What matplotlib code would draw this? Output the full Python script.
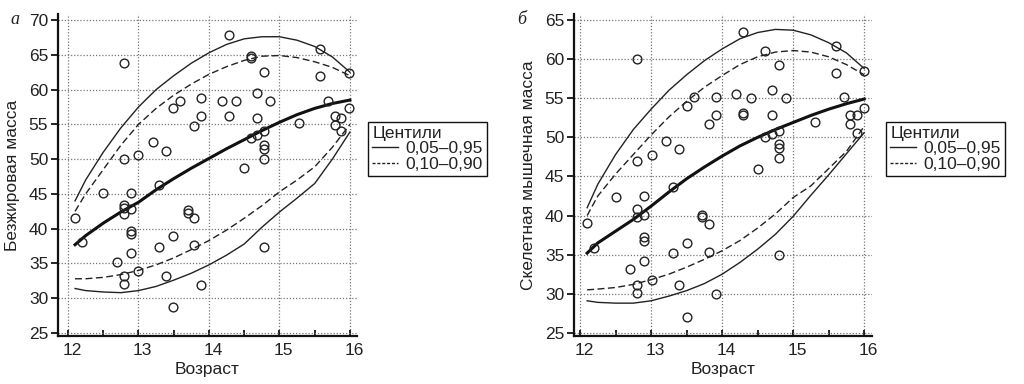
import matplotlib
matplotlib.use("Agg")
import matplotlib.pyplot as plt
from matplotlib.lines import Line2D
from matplotlib.ticker import MultipleLocator
from matplotlib.transforms import ScaledTranslation

plt.rcParams['font.family'] = ['Liberation Sans', 'DejaVu Sans']

# ---------------- data: panel a (lean mass) ----------------
age_a = [12.79, 14.285, 14.59, 14.59, 14.78, 15.575, 15.575, 15.98, 14.68, 14.87,
         15.69, 15.98, 15.785, 15.88, 15.785, 15.88, 15.28, 13.49, 13.59, 13.89,
         14.18, 14.39, 13.89, 14.285, 14.68, 13.79, 13.20, 13.39, 13.0, 12.79,
         14.59, 14.68, 14.78, 14.78, 14.78, 14.78, 14.49, 12.49, 12.89, 13.29,
         12.1, 12.2, 12.79, 12.79, 12.79, 12.89, 12.89, 12.89, 12.89, 12.69,
         12.79, 12.79, 13.0, 13.29, 13.39, 13.49, 13.49, 13.7, 13.7, 13.79,
         13.79, 13.89, 14.78]
mass_a = [63.8, 67.8, 64.8, 64.5, 62.6, 65.9, 61.9, 62.4, 59.5, 58.3,
          58.4, 57.3, 56.25, 55.96, 54.9, 54.0, 55.2, 57.3, 58.3, 58.75,
          58.3, 58.3, 56.15, 56.2, 55.96, 54.75, 52.5, 51.2, 50.6, 50.0,
          53.1, 53.5, 54.0, 52.1, 51.5, 50.0, 48.75, 45.1, 45.1, 46.3,
          41.6, 38.1, 43.45, 43.0, 42.15, 42.8, 39.7, 39.25, 36.5, 35.25,
          33.2, 32.0, 33.9, 37.4, 33.2, 39.0, 28.8, 42.7, 42.25, 41.6,
          37.65, 31.9, 37.3]

cent_x = [12.1, 12.25, 12.5, 12.75, 13.0, 13.25, 13.5, 13.75, 14.0, 14.25,
          14.5, 14.75, 15.0, 15.25, 15.5, 15.75, 16.0]
a_p95 = [44.0, 47.0, 51.0, 54.5, 57.5, 60.0, 62.0, 63.8, 65.3, 66.5,
         67.3, 67.6, 67.6, 67.1, 66.2, 64.7, 62.5]
a_p90 = [42.5, 45.0, 48.5, 52.0, 55.0, 57.3, 59.2, 60.8, 62.2, 63.3,
         64.2, 64.8, 64.9, 64.6, 64.0, 63.2, 62.0]
a_p50 = [37.7, 39.0, 40.8, 42.4, 43.8, 45.6, 47.2, 48.7, 50.1, 51.5,
         52.8, 54.1, 55.3, 56.4, 57.3, 58.0, 58.5]
a_p10 = [32.8, 32.8, 33.0, 33.4, 34.0, 34.8, 35.8, 37.0, 38.3, 39.8,
         41.5, 43.3, 45.3, 47.0, 48.9, 51.7, 55.0]
a_p05 = [31.4, 31.1, 30.9, 30.8, 31.1, 31.7, 32.6, 33.6, 34.8, 36.2,
         37.8, 40.2, 42.4, 44.4, 46.5, 50.0, 53.9]

# ---------------- data: panel б (skeletal muscle mass) ----------------
age_b = [12.80, 14.30, 14.61, 14.80, 15.60, 15.60, 16.0, 14.20, 14.41, 14.90,
         14.70, 14.30, 14.30, 14.70, 15.71, 15.31, 15.80, 15.80, 15.9, 16.0,
         15.9, 13.60, 13.91, 13.50, 13.91, 13.81, 14.61, 14.70, 14.80, 14.80,
         14.80, 14.80, 14.50, 13.21, 13.40, 13.01, 12.80, 13.31, 12.50, 12.90,
         12.10, 12.20, 12.80, 12.80, 12.90, 12.90, 12.90, 12.90, 12.70, 12.80,
         12.80, 13.01, 13.31, 13.40, 13.50, 13.50, 13.71, 13.71, 13.81, 13.81,
         13.91, 14.80]
mass_b = [60.0, 63.5, 61.0, 59.25, 61.7, 58.2, 58.5, 55.5, 55.0, 55.0,
          56.05, 53.1, 52.8, 52.8, 55.2, 51.9, 52.8, 51.7, 52.8, 53.7,
          50.5, 55.2, 55.2, 54.05, 52.8, 51.7, 50.0, 50.45, 50.8, 49.2,
          48.6, 47.4, 45.9, 49.5, 48.5, 47.7, 47.0, 43.6, 42.35, 42.5,
          39.0, 35.85, 40.9, 39.8, 40.1, 37.2, 36.7, 34.2, 33.2, 31.1,
          30.05, 31.7, 35.2, 31.15, 36.5, 27.05, 40.1, 39.8, 38.9, 35.4,
          30.0, 34.9]

b_p95 = [41.0, 44.0, 47.8, 51.0, 53.6, 56.0, 58.0, 59.8, 61.3, 62.6,
         63.4, 63.8, 63.7, 63.1, 62.1, 60.8, 58.8]
b_p90 = [40.0, 42.5, 45.3, 47.8, 50.3, 52.6, 54.6, 56.4, 57.9, 59.3,
         60.3, 60.9, 61.1, 60.9, 60.3, 59.3, 58.0]
b_p50 = [35.2, 36.5, 38.0, 39.5, 41.2, 43.0, 44.7, 46.2, 47.6, 48.9,
         50.0, 51.0, 51.9, 52.8, 53.6, 54.3, 54.9]
b_p10 = [30.5, 30.6, 30.8, 31.2, 31.8, 32.5, 33.4, 34.4, 35.5, 36.8,
         38.4, 40.2, 42.3, 43.8, 46.0, 48.2, 51.4]
b_p05 = [29.1, 28.9, 28.8, 28.8, 29.1, 29.7, 30.4, 31.3, 32.5, 34.0,
         35.7, 37.6, 39.9, 42.6, 45.2, 47.9, 50.6]

x_ticks = [12, 13, 14, 15, 16]
yticks_a = [25, 30, 35, 40, 45, 50, 55, 60, 65, 70]
yticks_b = [25, 30, 35, 40, 45, 50, 55, 60, 65]
legend_title = "Центили"
legend_labels = ["0,05–0,95", "0,10–0,90"]

W, H = 1024, 384
fig = plt.figure(figsize=(W / 100, H / 100), dpi=100)

TXT = '#222222'
FS = 12.5


def make_axes(left_px, right_px, top_px, bottom_px):
    return fig.add_axes([left_px / W, 1 - bottom_px / H,
                         (right_px - left_px) / W, (bottom_px - top_px) / H])


def style(ax, xlim, ylim, yticks, ylabel):
    ax.set_xlim(*xlim)
    ax.set_ylim(*ylim)
    ax.set_xticks(x_ticks)
    ax.set_yticks(yticks)
    ax.xaxis.set_minor_locator(MultipleLocator(0.5))
    for s in ['top', 'right']:
        ax.spines[s].set_visible(False)
    for s in ['left', 'bottom']:
        ax.spines[s].set_linewidth(1.6)
        ax.spines[s].set_color('#111111')
    ax.grid(True, which='major', linestyle=(0, (1, 1.5)), color='#777777', linewidth=0.9)
    ax.tick_params(axis='x', which='both', direction='in', length=4, width=1.2,
                   labelsize=FS, labelcolor=TXT, pad=5)
    ax.tick_params(axis='y', which='major', direction='out', length=5, width=1.2,
                   labelsize=FS, labelcolor=TXT, pad=2)
    shift = ScaledTranslation(4 / 100, 0, fig.dpi_scale_trans)
    for lbl in ax.get_xticklabels():
        lbl.set_transform(lbl.get_transform() + shift)
    ax.set_xlabel("Возраст", fontsize=FS, color=TXT, labelpad=3)
    ax.set_ylabel(ylabel, fontsize=FS, color=TXT, labelpad=6)
    ax.set_axisbelow(True)


def draw(ax, ages, masses, p95, p90, p50, p10, p05):
    ax.plot(cent_x, p95, color='#222222', lw=1.0, ls='-')
    ax.plot(cent_x, p05, color='#222222', lw=1.0, ls='-')
    ax.plot(cent_x, p90, color='#222222', lw=1.0, ls=(0, (5, 2.5)))
    ax.plot(cent_x, p10, color='#222222', lw=1.0, ls=(0, (5, 2.5)))
    ax.plot(cent_x, p50, color='#111111', lw=2.2, ls='-')
    ax.plot(ages, masses, ls='none', marker='o', ms=6.3, mfc='none',
            mec='#222222', mew=1.0)


def legend(ax, x_px, y_px):
    handles = [Line2D([], [], color='#222222', lw=1.0, ls='-'),
               Line2D([], [], color='#222222', lw=1.0, ls=(0, (2.2, 1.3)))]
    leg = ax.legend(handles, legend_labels, title=legend_title,
                    loc='upper left', bbox_to_anchor=(x_px / W, 1 - y_px / H),
                    bbox_transform=fig.transFigure, borderaxespad=0,
                    fontsize=FS, title_fontsize=FS, handlelength=1.5,
                    handletextpad=0.4, labelspacing=0.0, borderpad=0.25,
                    fancybox=False, framealpha=1, edgecolor='#111111',
                    alignment='left')
    leg.get_frame().set_linewidth(1.0)
    for t in leg.get_texts():
        t.set_color(TXT)
    leg.get_title().set_color(TXT)


# panel a
ax1 = make_axes(58, 357, 14, 336)
style(ax1, (11.858, 16.1), (24.57, 70.87), yticks_a, "Безжировая масса")
draw(ax1, age_a, mass_a, a_p95, a_p90, a_p50, a_p10, a_p05)
legend(ax1, 368, 122)
fig.text(10 / W, 1 - 20 / H, "а", fontsize=13, family='Liberation Serif',
         style='italic', color=TXT, ha='left', va='center')

# panel б
ax2 = make_axes(574, 872, 14, 336)
style(ax2, (11.915, 16.11), (24.6, 65.77), yticks_b, "Скелетная мышечная масса")
draw(ax2, age_b, mass_b, b_p95, b_p90, b_p50, b_p10, b_p05)
legend(ax2, 886, 122)
fig.text(517 / W, 1 - 20 / H, "б", fontsize=13, family='Liberation Serif',
         style='italic', color=TXT, ha='left', va='center')

fig.savefig("out.png", dpi=100)
